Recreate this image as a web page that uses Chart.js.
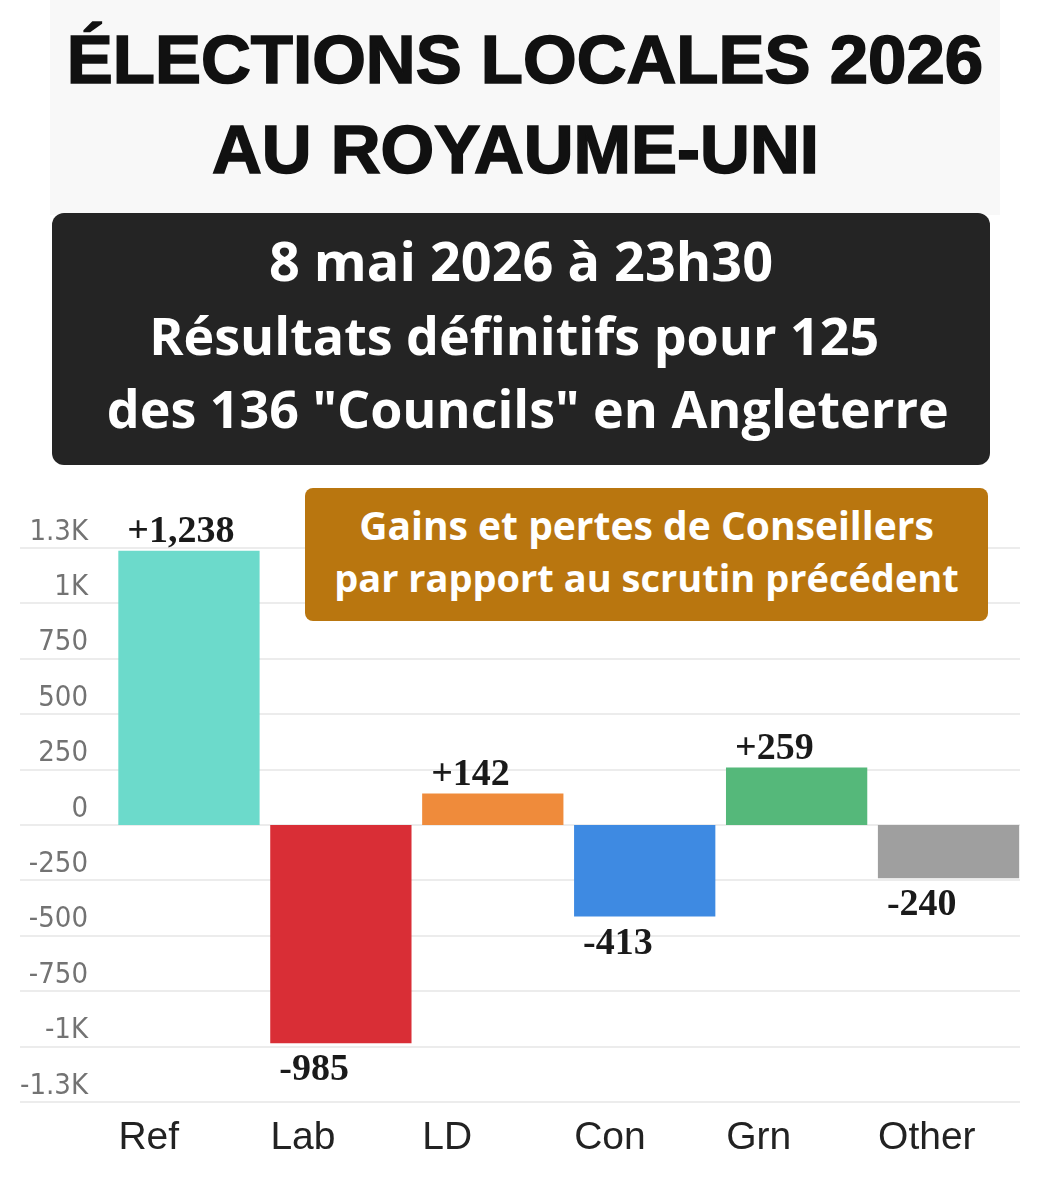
<!DOCTYPE html>
<html lang="fr">
<head>
<meta charset="utf-8">
<title>Élections locales 2026 au Royaume-Uni</title>
<script src="https://cdn.jsdelivr.net/npm/chart.js@4.4.1/dist/chart.umd.min.js"></script>
<style>
  html, body { margin: 0; padding: 0; background: #fff; }
  #page { position: relative; width: 1040px; height: 1200px; overflow: hidden; }
  #head {
    position: absolute; left: 50px; top: 0; width: 950px; height: 215px;
    background: #f8f8f8;
  }
  #head div {
    text-align: center; color: #111;
    font: bold 69px "Liberation Sans", Arial, sans-serif;
    -webkit-text-stroke: 1.6px #111;
    line-height: 90px; white-space: pre;
  }
  #head .l1 { padding-top: 15px; }
  #dark {
    position: absolute; left: 52px; top: 213px; width: 938px; height: 252px;
    background: #242424; border-radius: 12px; z-index: 2;
  }
  #dark div {
    text-align: center; color: #fff;
    font: bold 52px "Open Sans", "Noto Sans", sans-serif;
    line-height: 73.5px; white-space: pre;
  }
  #dark .l1 { padding-top: 11px; }
  #dark .l0 { font-size: 54px; }
  #note {
    position: absolute; left: 305px; top: 488px; width: 683px; height: 133px;
    background: #b9760f; border-radius: 8px; z-index: 2;
  }
  #note div {
    text-align: center; color: #fff;
    font: bold 38px "Open Sans", "Noto Sans", sans-serif;
    line-height: 52px; white-space: pre;
  }
  #note .l1 { padding-top: 11px; font-size: 39px; }
  #chartBox { position: absolute; left: 0; top: 470px; width: 1040px; height: 730px; z-index: 1; }
</style>
</head>
<body>
<div id="page">
  <div id="head">
    <div class="l1">ÉLECTIONS LOCALES 2026</div>
    <div>AU ROYAUME-UNI </div>
  </div>
  <div id="dark">
    <div class="l1 l0">8 mai 2026 à 23h30</div>
    <div>Résultats définitifs pour 125 </div>
    <div> des 136 "Councils" en Angleterre</div>
  </div>
  <div id="note">
    <div class="l1">Gains et pertes de Conseillers</div>
    <div>par rapport au scrutin précédent</div>
  </div>
  <div id="chartBox"><canvas id="seats" width="1040" height="730"></canvas></div>
</div>
<script>
// data
var parties = ['Ref', 'Lab', 'LD', 'Con', 'Grn', 'Other'];
var seatChange = [1238, -985, 142, -413, 259, -240];
var partyColors = ['#6cdacb', '#d92e36', '#ef8b3b', '#3e8ae2', '#55b87a', '#9f9f9f'];
var tickValues = [1250, 1000, 750, 500, 250, 0, -250, -500, -750, -1000, -1250];
var tickLabels = ['1.3K', '1K', '750', '500', '250', '0', '-250', '-500', '-750', '-1K', '-1.3K'];

// light horizontal rules that run under the tick labels too
var gridRules = {
  id: 'gridRules',
  beforeDatasetsDraw: function (chart) {
    var ctx = chart.ctx;
    var y = chart.scales.y;
    ctx.save();
    ctx.strokeStyle = '#ececec';
    ctx.lineWidth = 2;
    tickValues.forEach(function (v) {
      var py = Math.round(y.getPixelForValue(v));
      ctx.beginPath();
      ctx.moveTo(20, py);
      ctx.lineTo(1020, py);
      ctx.stroke();
    });
    ctx.restore();
  }
};

// "+1,238" style labels, left aligned on the bar
var valueLabels = {
  id: 'valueLabels',
  afterDatasetsDraw: function (chart) {
    var ctx = chart.ctx;
    var meta = chart.getDatasetMeta(0);
    ctx.save();
    ctx.font = 'bold 38px "Liberation Serif", "DejaVu Serif", serif';
    ctx.fillStyle = '#1a1a1a';
    ctx.textAlign = 'left';
    ctx.textBaseline = 'alphabetic';
    meta.data.forEach(function (bar, i) {
      var v = seatChange[i];
      var txt = (v > 0 ? '+' : '') + v.toLocaleString('en-US');
      var x = bar.x - bar.width / 2 + 9;
      var y = v >= 0 ? bar.y - 9 : bar.y + 37;
      ctx.fillText(txt, x, y);
    });
    ctx.restore();
  }
};

var ctx = document.getElementById('seats');
var seatsChart = new Chart(ctx, {
  type: 'bar',
  data: {
    labels: parties,
    datasets: [{
      label: 'Gains / pertes',
      data: seatChange,
      backgroundColor: partyColors,
      borderWidth: 0,
      barPercentage: 0.93,
      categoryPercentage: 1
    }]
  },
  options: {
    responsive: false,
    animation: false,
    layout: { padding: { top: 78, right: 15.5, bottom: 0, left: 0 } },
    plugins: {
      legend: { display: false },
      tooltip: { enabled: false }
    },
    scales: {
      x: {
        grid: { display: false, drawTicks: false },
        border: { display: false },
        afterFit: function (scale) {
          scale.height = 98;
          scale.paddingLeft = 0;
          scale.paddingRight = 0;
        },
        ticks: {
          align: 'start',
          labelOffset: -70.5,
          padding: 13,
          color: '#222',
          font: { family: '"Liberation Sans", Arial, sans-serif', size: 39 }
        }
      },
      y: {
        min: -1250,
        max: 1250,
        grid: { display: false, drawTicks: false },
        border: { display: false },
        afterFit: function (scale) { scale.width = 113; },
        afterBuildTicks: function (scale) {
          scale.ticks = tickValues.map(function (v) { return { value: v }; });
        },
        ticks: {
          padding: 25,
          labelOffset: -16,
          color: '#737373',
          font: { family: '"Liberation Sans Narrow", "DejaVu Sans Condensed", sans-serif', size: 29 },
          callback: function (v) { return tickLabels[tickValues.indexOf(v)]; }
        }
      }
    }
  },
  plugins: [gridRules, valueLabels]
});
</script>
</body>
</html>
